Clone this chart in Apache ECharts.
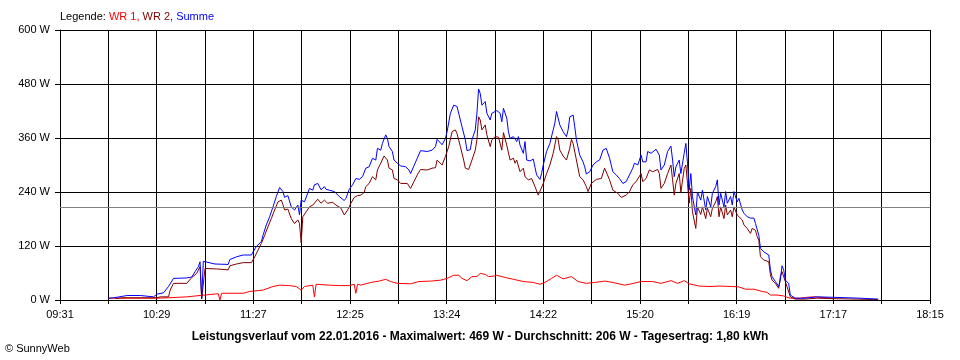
<!DOCTYPE html>
<html><head><meta charset="utf-8">
<script src="https://cdn.jsdelivr.net/npm/echarts@6/dist/echarts.min.js"></script>
<style>html,body{margin:0;padding:0;background:#fff}#c{width:960px;height:360px}</style>
</head><body><div id="c"></div>
<script>
// Axis: time span and tick labels
const axisStart = "09:30:33";
const axisEnd = "18:15:15";
const tickLabels = ["09:31","10:29","11:27","12:25","13:24","14:22","15:20","16:19","17:17","18:15"];
const yMax = 600, yStep = 120;

// Summary values
const dateText = "22.01.2016";
const maxW = 469;
const avgW = 206;
const yieldKWh = "1,80";

// Series: [time, watts]
const wr1 = [["10:00",4],["10:29",4],["10:30",5],["10:36",5],["10:37",7],["10:47",7],["10:48",10],["10:55",10],["10:56",14],["11:06",14],["11:07",0],["11:08",15],["11:21",15],["11:25",19],["11:33",22],["11:39",30],["11:43",33],["11:49",32],["11:53",30],["11:56",22],["11:58",30],["12:03",33],["12:04",7],["12:05",35],["12:13",33],["12:19",32],["12:25",32],["12:28",35],["12:29",15],["12:30",35],["12:32",33],["12:38",39],["12:43",42],["12:47",46],["12:50",41],["12:54",37],["13:02",36],["13:07",41],["13:14",42],["13:20",44],["13:24",48],["13:28",55],["13:31",55],["13:33",48],["13:36",43],["13:39",52],["13:42",52],["13:44",59],["13:47",57],["13:49",52],["13:52",53],["13:54",55],["13:59",50],["14:04",46],["14:10",41],["14:16",39],["14:20",35],["14:23",39],["14:27",48],["14:30",55],["14:34",47],["14:39",52],["14:43",41],["14:48",37],["14:53",39],["14:59",42],["15:04",39],["15:11",33],["15:14",35],["15:21",41],["15:28",41],["15:33",37],["15:39",43],["15:43",37],["15:47",43],["15:50",36],["15:56",31],["16:02",30],["16:08",31],["16:16",30],["16:20",29],["16:24",24],["16:29",24],["16:34",19],["16:37",17],["16:39",11],["16:43",11],["16:47",9],["16:49",6],["16:51",4],["16:57",4],["17:01",6],["17:05",7],["17:13",5],["17:17",3]];

const wr2 = [["10:04",3],["10:08",5],["10:29",5],["10:31",7],["10:36",7],["10:37",22],["10:39",37],["10:47",37],["10:48",40],["10:50",50],["10:53",59],["10:55",74],["10:56",2],["10:58",70],["11:05",69],["11:06",67],["11:12",67],["11:13",76],["11:17",80],["11:21",83],["11:26",83],["11:28",96],["11:30",111],["11:32",126],["11:34",144],["11:36",163],["11:38",181],["11:40",200],["11:42",218],["11:44",222],["11:45",212],["11:46",200],["11:48",202],["11:49",200],["11:50",181],["11:52",170],["11:53",167],["11:54",178],["11:55",170],["11:56",127],["11:57",185],["11:59",196],["12:01",207],["12:03",211],["12:06",224],["12:08",215],["12:10",222],["12:12",215],["12:15",217],["12:17",211],["12:20",204],["12:22",189],["12:24",200],["12:26",215],["12:28",228],["12:30",232],["12:32",233],["12:34",239],["12:35",252],["12:37",259],["12:39",274],["12:41",267],["12:42",289],["12:44",304],["12:46",320],["12:48",311],["12:49",293],["12:51",289],["12:52",270],["12:54",267],["12:56",259],["13:00",259],["13:02",248],["13:04",263],["13:06",278],["13:08",290],["13:12",289],["13:15",293],["13:17",294],["13:18",311],["13:21",300],["13:23",319],["13:25",341],["13:27",374],["13:29",378],["13:30",370],["13:32",341],["13:34",311],["13:35",293],["13:37",290],["13:39",311],["13:41",333],["13:42",356],["13:43",407],["13:44",400],["13:45",378],["13:47",389],["13:48",367],["13:50",341],["13:51",356],["13:53",363],["13:55",362],["13:57",333],["13:58",372],["14:00",344],["14:02",311],["14:04",315],["14:05",304],["14:06",311],["14:08",285],["14:10",293],["14:11",274],["14:13",267],["14:15",270],["14:17",252],["14:19",233],["14:20",237],["14:22",259],["14:24",281],["14:26",300],["14:28",326],["14:30",363],["14:31",356],["14:32",333],["14:34",320],["14:36",311],["14:38",337],["14:39",357],["14:40",348],["14:42",311],["14:44",274],["14:46",267],["14:48",252],["14:49",241],["14:51",259],["14:54",268],["14:57",270],["14:59",293],["15:00",289],["15:02",267],["15:04",244],["15:07",237],["15:09",228],["15:10",226],["15:12",233],["15:14",241],["15:16",256],["15:18",263],["15:21",281],["15:22",263],["15:24",270],["15:26",289],["15:28",285],["15:31",290],["15:32",281],["15:33",248],["15:35",259],["15:37",281],["15:39",300],["15:40",267],["15:41",233],["15:42",259],["15:44",281],["15:45",239],["15:47",292],["15:48",300],["15:49",259],["15:50",215],["15:51",248],["15:52",196],["15:54",159],["15:55",207],["15:57",190],["15:58",207],["16:00",181],["16:01",204],["16:03",185],["16:04",204],["16:06",218],["16:07",230],["16:08",185],["16:09",207],["16:11",181],["16:12",211],["16:13",189],["16:15",200],["16:16",185],["16:17",207],["16:19",189],["16:20",193],["16:22",178],["16:23",167],["16:25",159],["16:27",148],["16:28",159],["16:30",155],["16:31",141],["16:32",133],["16:33",96],["16:35",89],["16:36",91],["16:38",85],["16:39",56],["16:40",44],["16:41",41],["16:42",37],["16:44",26],["16:45",52],["16:46",63],["16:48",41],["16:49",44],["16:51",7],["16:52",4],["16:54",2],["17:00",2],["17:01",4],["17:07",4],["17:08",3],["17:17",3],["17:18",2],["17:44",1]];

const summe = [["10:00",4],["10:03",5],["10:08",8],["10:11",10],["10:19",10],["10:20",7],["10:27",7],["10:29",13],["10:33",16],["10:36",30],["10:39",48],["10:47",49],["10:48",46],["10:50",51],["10:52",63],["10:54",74],["10:55",85],["10:56",4],["10:57",86],["11:04",80],["11:12",79],["11:13",90],["11:17",96],["11:21",100],["11:26",100],["11:27",107],["11:29",119],["11:32",130],["11:33",144],["11:35",167],["11:37",185],["11:39",207],["11:41",230],["11:43",250],["11:44",253],["11:45",241],["11:46",228],["11:48",232],["11:49",228],["11:50",207],["11:52",200],["11:53",196],["11:54",211],["11:55",189],["11:56",222],["11:58",218],["11:59",222],["12:01",248],["12:03",244],["12:04",256],["12:06",259],["12:08",245],["12:10",252],["12:11",246],["12:13",244],["12:16",241],["12:19",230],["12:22",221],["12:23",226],["12:25",246],["12:27",256],["12:29",270],["12:31",268],["12:33",274],["12:35",293],["12:37",296],["12:39",315],["12:41",311],["12:42",337],["12:44",333],["12:45",348],["12:47",367],["12:48",359],["12:49",341],["12:51",330],["12:52",311],["12:54",304],["12:56",298],["12:59",296],["13:01",289],["13:02",281],["13:04",298],["13:06",315],["13:08",332],["13:12",330],["13:15",333],["13:17",341],["13:18",357],["13:21",345],["13:23",359],["13:24",374],["13:26",415],["13:28",433],["13:30",430],["13:31",415],["13:33",385],["13:35",356],["13:36",332],["13:38",334],["13:39",356],["13:41",378],["13:42",415],["13:43",469],["13:44",459],["13:45",433],["13:47",441],["13:48",415],["13:50",400],["13:51",415],["13:54",421],["13:56",415],["13:57",396],["13:58",426],["14:00",404],["14:01",374],["14:02",359],["14:04",363],["14:06",352],["14:07",363],["14:08",344],["14:10",326],["14:11",352],["14:12",311],["14:14",309],["14:16",313],["14:17",295],["14:18",278],["14:20",268],["14:21",281],["14:22",300],["14:24",330],["14:26",348],["14:28",378],["14:29",393],["14:30",419],["14:31",415],["14:32",389],["14:34",374],["14:36",363],["14:37",378],["14:38",407],["14:40",411],["14:41",385],["14:42",356],["14:44",322],["14:46",307],["14:47",296],["14:48",280],["14:50",285],["14:52",300],["14:54",307],["14:56",311],["14:58",333],["15:00",337],["15:02",315],["15:04",285],["15:06",278],["15:08",270],["15:10",259],["15:12",263],["15:14",278],["15:16",293],["15:17",304],["15:19",300],["15:21",322],["15:22",307],["15:24",307],["15:25",330],["15:27",326],["15:30",335],["15:32",322],["15:33",289],["15:35",300],["15:37",330],["15:39",342],["15:40",311],["15:41",274],["15:42",296],["15:44",311],["15:45",281],["15:47",326],["15:48",348],["15:49",304],["15:50",244],["15:51",281],["15:52",230],["15:54",189],["15:55",240],["15:57",222],["15:58",244],["16:00",200],["16:01",230],["16:03",207],["16:04",237],["16:06",252],["16:07",267],["16:08",211],["16:09",237],["16:11",207],["16:12",241],["16:13",215],["16:15",230],["16:16",211],["16:17",241],["16:19",218],["16:20",226],["16:22",200],["16:23",193],["16:25",185],["16:27",182],["16:28",181],["16:29",182],["16:30",170],["16:31",172],["16:32",144],["16:33",115],["16:35",107],["16:36",104],["16:38",100],["16:39",67],["16:40",52],["16:41",48],["16:42",41],["16:44",30],["16:45",44],["16:46",76],["16:47",67],["16:48",44],["16:49",48],["16:50",37],["16:51",11],["16:52",7],["16:54",4],["17:00",4],["17:01",7],["17:07",7],["17:08",6],["17:17",6],["17:18",4],["17:33",4],["17:34",3],["17:44",2]];

function toMin(s){const p=s.split(':').map(Number);return p[0]*60+p[1]+(p[2]||0)/60;}
const x0 = toMin(axisStart), span = toMin(axisEnd) - x0;
const nSplit = (tickLabels.length - 1) * 2;
const step = span / nSplit;
const conv = arr => arr.map(d => [toMin(d[0]) - x0, d[1]]);

const F = '"Liberation Sans", Arial, sans-serif';
const chart = echarts.init(document.getElementById('c'), null, {renderer:'canvas'});
const rs = c => ({color:c, fontSize:11, fontFamily:F, fontWeight:'normal'});
chart.setOption({
  animation:false,
  backgroundColor:'#fff',
  textStyle:{fontFamily:F},
  title:[
    {text:'{a|Legende: }{b|WR 1, }{c|WR 2, }{d|Summe}', left:60, top:10, padding:0,
     textStyle:{fontSize:11, fontWeight:'normal', lineHeight:13, rich:{
       a:rs('#000'), b:rs('#ff0000'), c:rs('#800000'), d:rs('#0000ff')}}},
    {text:'Leistungsverlauf vom '+dateText+' - Maximalwert: '+maxW+' W - Durchschnitt: '+avgW+' W - Tagesertrag: '+yieldKWh+' kWh',
     left:'center', top:330, padding:0,
     textStyle:{fontSize:12, fontWeight:'bold', color:'#000', fontFamily:F, lineHeight:14}},
    {text:'© SunnyWeb', left:5, top:342, padding:0,
     textStyle:{fontSize:11, fontWeight:'normal', color:'#000', fontFamily:F, lineHeight:13}}
  ],
  grid:{left:60, right:30, top:30, bottom:60, containLabel:false},
  xAxis:{type:'value', min:0, max:span, interval:step,
    axisLine:{show:true, onZero:false, lineStyle:{color:'#000', width:1}},
    axisTick:{show:true, length:4, lineStyle:{color:'#000'}},
    splitLine:{show:true, lineStyle:{color:'#000', width:1}},
    axisLabel:{margin:9, fontSize:11, color:'#000', fontFamily:F, showMinLabel:true, showMaxLabel:true,
      formatter:v=>{const i=Math.round(v/step);return i%2===0 ? tickLabels[i/2] : '';}}},
  yAxis:{type:'value', min:0, max:yMax, interval:yStep,
    axisLine:{show:true, lineStyle:{color:'#000', width:1}},
    axisTick:{show:true, length:5, lineStyle:{color:'#000'}},
    splitLine:{show:true, lineStyle:{color:'#000', width:1}},
    axisLabel:{margin:10, fontSize:11, color:'#000', fontFamily:F, formatter:'{value} W'}},
  series:[
    {name:'WR 1', type:'line', data:conv(wr1), showSymbol:false, symbol:'none',
     lineStyle:{color:'#ff0000', width:1}, z:3,
     markLine:{silent:true, symbol:['none','none'], label:{show:false},
       lineStyle:{color:'#808080', type:'solid', width:1}, data:[{yAxis:avgW}]}},
    {name:'WR 2', type:'line', data:conv(wr2), showSymbol:false, symbol:'none',
     lineStyle:{color:'#800000', width:1}, z:3},
    {name:'Summe', type:'line', data:conv(summe), showSymbol:false, symbol:'none',
     lineStyle:{color:'#0000ff', width:1}, z:4}
  ]
});
</script></body></html>
